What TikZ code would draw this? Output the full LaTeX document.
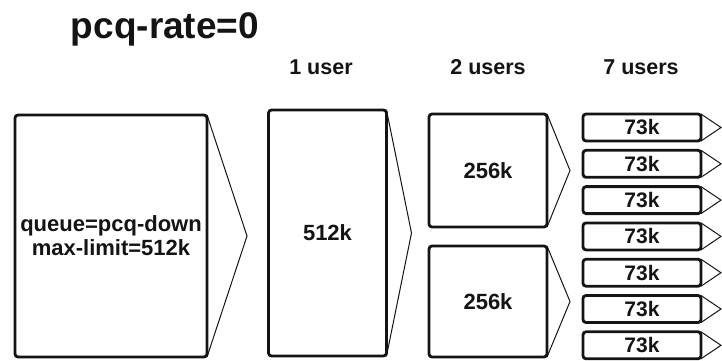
\documentclass[tikz,border=0pt]{standalone}
\usepackage{fontspec}
\setmainfont{Liberation Sans}
\usetikzlibrary{positioning,calc}
\definecolor{ink}{HTML}{141414}
\newcommand{\boxw}{118pt}

\begin{document}
\begin{tikzpicture}[
  x=1pt, y=-1pt,
  font=\bfseries\color{ink},
  box/.style={draw=ink, line width=2.8pt, rounded corners=3pt, fill=white,
    inner sep=0pt, outer sep=0pt, align=center,
    font=\fontsize{22}{24}\bfseries\selectfont\color{ink}},
  spout/.style={draw=ink, line width=1pt, line join=miter},
  head/.style={font=\fontsize{21.5}{24}\bfseries\selectfont\color{ink}},
]
\useasboundingbox (0,0) rectangle (722,360);

% ---- Title and column heads -------------------------------------------------
\node[font=\fontsize{37}{40}\bfseries\selectfont\color{ink}] (title) at (165,29) {pcq-rate=0};
\node[head] (one) at (321,67) {1 user};
\node[head] (two) at (488,67) {2 users};
\node[head] (seven) at (641,67) {7 users};

% ---- Parent queue -------------------------------------------------------------
\node[box, minimum width=192pt, minimum height=242pt] (parent) at (111,236)
  {queue=pcq-down\\max-limit=512k};
\draw[spout] (parent.north east) -- ($(parent.east)+(40,0)$) -- (parent.south east);

% ---- 1 user -------------------------------------------------------------------
\node[box, minimum width=\boxw, minimum height=246pt] (u1) at (327.5,233) {512k};
\draw[spout] (u1.north east) -- ($(u1.east)+(25,0)$) -- (u1.south east);

% ---- 2 users ------------------------------------------------------------------
\node[box, minimum width=\boxw, minimum height=113pt] (u2a) at (488,170.5) {256k};
\node[box, minimum width=\boxw, minimum height=111pt] (u2b) at (488,301.5) {256k};
\foreach \n in {u2a,u2b}
  \draw[spout] (\n.north east) -- ($(\n.east)+(23,0)$) -- (\n.south east);

% ---- 7 users ------------------------------------------------------------------
\foreach \i in {1,...,7} {
  \node[box, minimum width=\boxw, minimum height=27pt, font=\fontsize{21}{22}\bfseries\selectfont\color{ink}]
    (u7\i) at (642,{127.5+36.3*(\i-1)}) {73k};
  \draw[spout] (u7\i.north east) -- ($(u7\i.east)+(20,0)$) -- (u7\i.south east);
}

\end{tikzpicture}
\end{document}
